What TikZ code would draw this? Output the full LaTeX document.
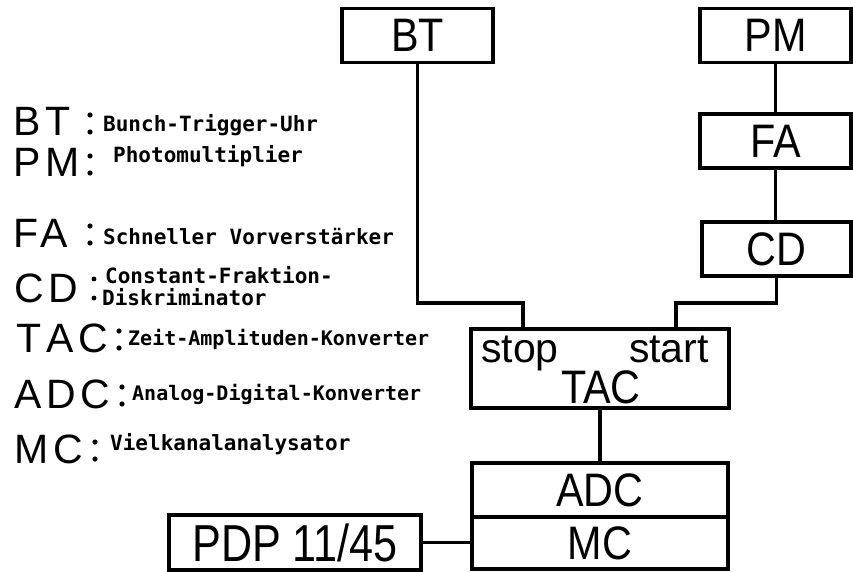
\documentclass[tikz,border=0pt]{standalone}
\usepackage{fontspec}
\usepackage{graphicx}
\setmainfont{Liberation Sans}
\newfontfamily\descfont{DejaVu Sans Mono}
\newfontfamily\legfont[LetterSpace=12]{Liberation Sans}
\newcommand{\cnd}[1]{\scalebox{0.88}[1]{#1}}
\tikzset{
  blk/.style={draw, line width=3.2pt, minimum height=54pt, inner sep=0pt,
    font=\fontsize{47}{47}\selectfont, text height=33pt, text depth=0pt},
  wire/.style={line width=3.2pt},
  legabbr/.style={anchor=base west, inner sep=0pt, font=\legfont\fontsize{41}{41}\selectfont},
  legdesc/.style={anchor=base west, inner sep=0pt, font=\descfont\bfseries\fontsize{21}{21}\selectfont},
  portlbl/.style={inner sep=0pt, font=\fontsize{41}{41}\selectfont},
}
\newcommand{\bigcolon}[2]{\fill (#1,#2-4) circle (2.6pt); \fill (#1,#2-21) circle (2.6pt);}
\begin{document}
\begin{tikzpicture}[x=1pt,y=-1pt]
\useasboundingbox (0,0) rectangle (853,572);
% boxes
\node[blk, minimum width=151pt] (BT) at (417.5,35.5) {\cnd{BT}};
\node[blk, minimum width=151pt] (PM) at (775.5,35.5) {\cnd{PM}};
\node[blk, minimum width=151pt] (FA) at (775.5,141) {\cnd{FA}};
\node[blk, minimum width=149pt] (CD) at (776.5,249) {\cnd{CD}};
\node[draw, line width=3.2pt, minimum width=258pt, minimum height=79pt, inner sep=0pt] (TAC) at (600,368.5) {};
\node[portlbl, anchor=base west] (stoplbl) at (481,362) {stop};
\node[portlbl, anchor=base east] (startlbl) at (709,362) {start};
\node[inner sep=0pt, anchor=base, font=\fontsize{47}{47}\selectfont] (taclbl) at (601,403) {\cnd{TAC}};
\node[blk, minimum width=256pt] (ADC) at (600,490) {\cnd{ADC}};
\node[blk, minimum width=256pt, minimum height=52pt] (MC) at (600,543) {\cnd{MC}};
\node[blk, minimum width=252pt, minimum height=55pt, font=\fontsize{52}{52}\selectfont, text height=37pt] (PDP) at (295,542.5) {\scalebox{0.83}[1]{PDP 11/45}};
% wires
\coordinate (stopj) at (523,303);
\coordinate (startj) at (676,303);
\draw[wire] (BT.south) |- (stopj) -- (stopj |- TAC.north);
\draw[wire] (CD.south) |- (startj) -- (startj |- TAC.north);
\draw[wire] (PM.south) -- (PM.south |- FA.north);
\draw[wire] (FA.south) -- (FA.south |- CD.north);
\draw[wire] (TAC.south) -- (ADC.north);
\draw[wire] (PDP.east) -- (PDP.east -| MC.west);
% legend
\node[legabbr] (lBT) at (13,136) {BT};
\bigcolon{90}{136}
\node[legdesc] (dBT) at (103,132) {Bunch-Trigger-Uhr};
\node[legabbr] (lPM) at (13,177) {PM};
\bigcolon{90}{177}
\node[legdesc] (dPM) at (113,163) {Photomultiplier};
\node[legabbr] (lFA) at (13,247) {FA};
\bigcolon{90}{247}
\node[legdesc] (dFA) at (103,244) {Schneller Vorverstärker};
\node[legabbr] (lCD) at (14,302) {CD};
\fill (94,279) circle (2.4pt);
\fill (94,298) circle (2.4pt);
\node[legdesc] (dCD1) at (105,283) {Constant-Fraktion-};
\node[legdesc] (dCD2) at (102,305) {Diskriminator};
\node[legabbr] (lTAC) at (16,352) {T\kern5pt AC};
\bigcolon{119}{352}
\node[legdesc, font=\descfont\bfseries\fontsize{20}{20}\selectfont] (dTAC) at (128,345) {Zeit-Amplituden-Konverter};
\node[legabbr] (lADC) at (14,408) {ADC};
\bigcolon{122}{408}
\node[legdesc, font=\descfont\bfseries\fontsize{20}{20}\selectfont] (dADC) at (132,400) {Analog-Digital-Konverter};
\node[legabbr] (lMC) at (14,463) {MC};
\bigcolon{95}{463}
\node[legdesc] (dMC) at (110,450) {Vielkanalanalysator};
\end{tikzpicture}
\end{document}
